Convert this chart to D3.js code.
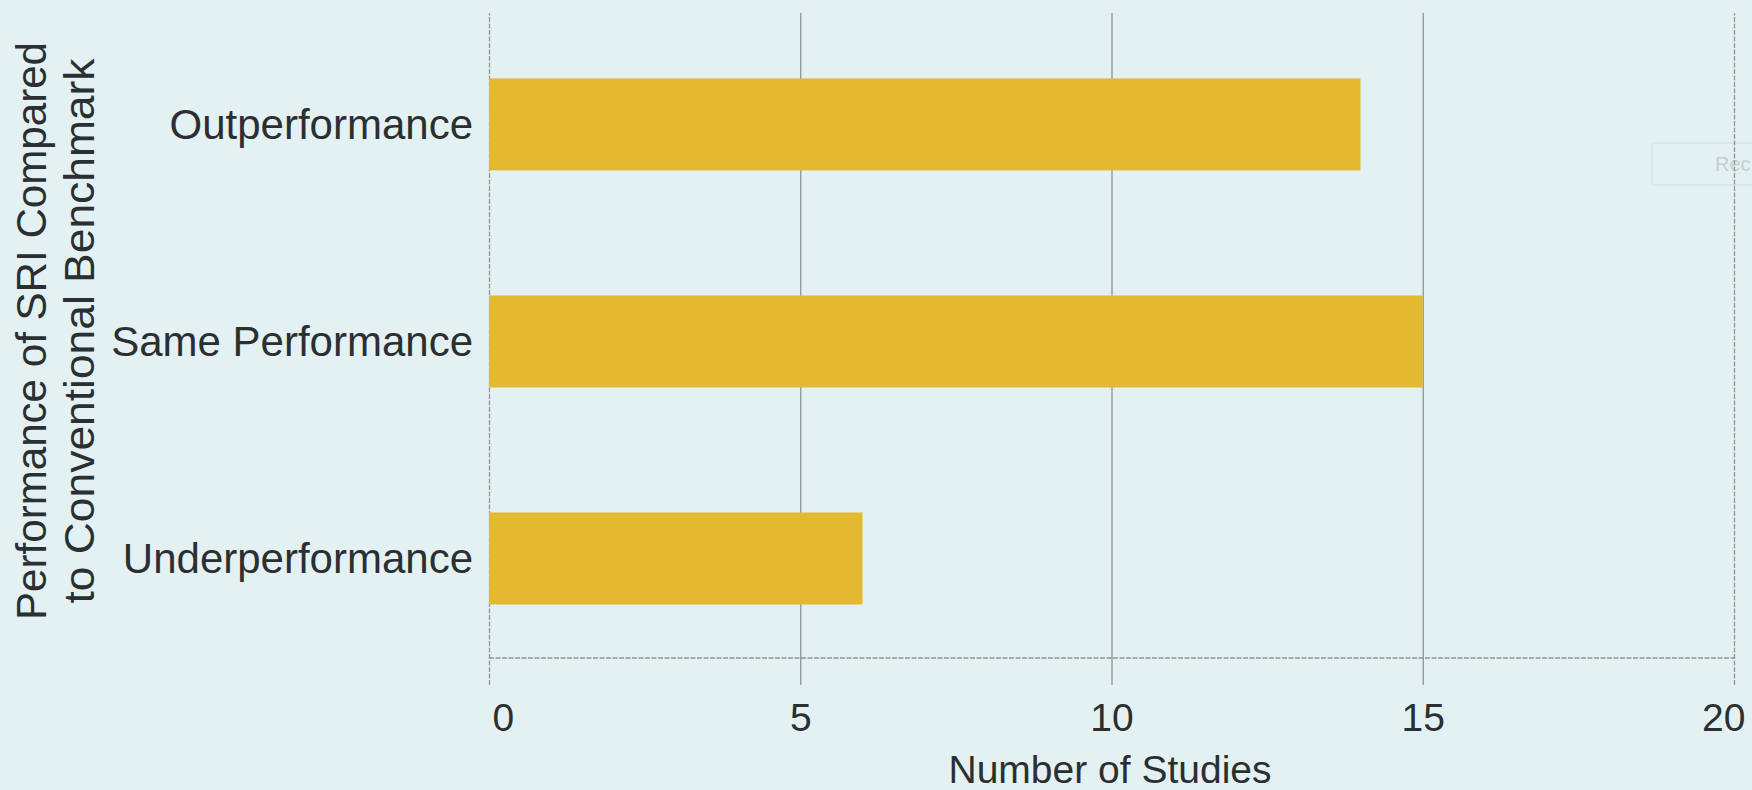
<!DOCTYPE html>
<html>
<head>
<meta charset="utf-8">
<script src="https://cdn.jsdelivr.net/npm/d3@7"></script>
<style>
  html, body { margin: 0; padding: 0; background: #e4f1f3; }
  svg { display: block; }
  text { font-family: "Liberation Sans", Arial, Helvetica, sans-serif; fill: #2b2f31; }
</style>
</head>
<body>
<svg id="chart" width="1752" height="790"></svg>
<script>
// ---- data ----
const categories = ["Outperformance", "Same Performance", "Underperformance"];
const studies = [14, 15, 6];
const xTicks = [0, 5, 10, 15, 20];
const xTitle = "Number of Studies";
const yTitleLines = ["Performance of SRI Compared", "to Conventional Benchmark"];

// ---- layout ----
const W = 1752, H = 790;
const plot = { left: 489, right: 1734, top: 13, bottom: 658 };
const colors = { bg: "#e4f1f3", bar: "#e3b931", grid: "#8e9496", text: "#2b2f31" };

const svg = d3.select("#chart");
svg.append("rect").attr("width", W).attr("height", H).attr("fill", colors.bg);

const x = d3.scaleLinear().domain([0, 20]).range([plot.left, plot.right]);
const y = d3.scaleBand().domain(categories).range([plot.top, plot.bottom])
  .paddingInner(0.576).paddingOuter(0.274).align(0.55);

// faint overlay artifact box
svg.append("rect").attr("x", 1652).attr("y", 143).attr("width", 110).attr("height", 42)
  .attr("fill", "none").attr("stroke", "#d3e2e5").attr("stroke-width", 1.2);
svg.append("text").attr("x", 1715).attr("y", 171).attr("font-size", 20)
  .style("fill", "#c3cfd2").text("Rec");

// vertical gridlines with tick extension
const xAxis = d3.axisBottom(x).tickValues(xTicks).tickSize(-(plot.bottom - plot.top)).tickFormat("");
const gx = svg.append("g").attr("transform", `translate(0,${plot.bottom})`).call(xAxis);
gx.select(".domain").remove();
gx.selectAll(".tick line")
  .attr("y2", -(plot.bottom - plot.top))
  .attr("y1", 27)
  .attr("stroke", colors.grid).attr("stroke-width", 1.3)
  .attr("stroke-dasharray", (d) => (d === 0 || d === 20) ? "5,1.5" : null);

// tick labels
gx.selectAll(".tick").append("text")
  .attr("y", 73)
  .attr("font-size", 39)
  .attr("x", (d) => d === 0 ? 3 : (d === 20 ? 11 : 0))
  .attr("text-anchor", (d) => d === 0 ? "start" : (d === 20 ? "end" : "middle"))
  .style("fill", colors.text)
  .text((d) => d);

// bars
svg.append("g").selectAll("rect").data(categories).join("rect")
  .attr("x", x(0))
  .attr("y", (d) => y(d))
  .attr("width", (d, i) => x(studies[i]) - x(0))
  .attr("height", y.bandwidth())
  .attr("fill", colors.bar);

// baseline
svg.append("line")
  .attr("x1", x(0)).attr("x2", x(20))
  .attr("y1", plot.bottom).attr("y2", plot.bottom)
  .attr("stroke", colors.grid).attr("stroke-width", 1.6)
  .attr("stroke-dasharray", "5,1.5");

// category labels
const yAxis = d3.axisLeft(y).tickSize(0).tickPadding(16);
const gy = svg.append("g").attr("transform", `translate(${plot.left},0)`).call(yAxis);
gy.select(".domain").remove();
gy.selectAll(".tick text")
  .attr("font-size", 42)
  .attr("font-family", "Liberation Sans, Arial, sans-serif")
  .attr("dy", "0.35em")
  .style("fill", colors.text);

// x title
svg.append("text")
  .attr("x", 1110).attr("y", 783)
  .attr("text-anchor", "middle")
  .attr("font-size", 39)
  .text(xTitle);

// y title (two rotated lines)
const yt = svg.append("g").attr("transform", "translate(0,331) rotate(-90)");
yt.append("text").attr("x", 0).attr("y", 46).attr("text-anchor", "middle")
  .attr("font-size", 42).attr("textLength", 578).attr("lengthAdjust", "spacingAndGlyphs")
  .text(yTitleLines[0]);
yt.append("text").attr("x", 0).attr("y", 94).attr("text-anchor", "middle")
  .attr("font-size", 42).attr("textLength", 545).attr("lengthAdjust", "spacingAndGlyphs")
  .text(yTitleLines[1]);
</script>
</body>
</html>
